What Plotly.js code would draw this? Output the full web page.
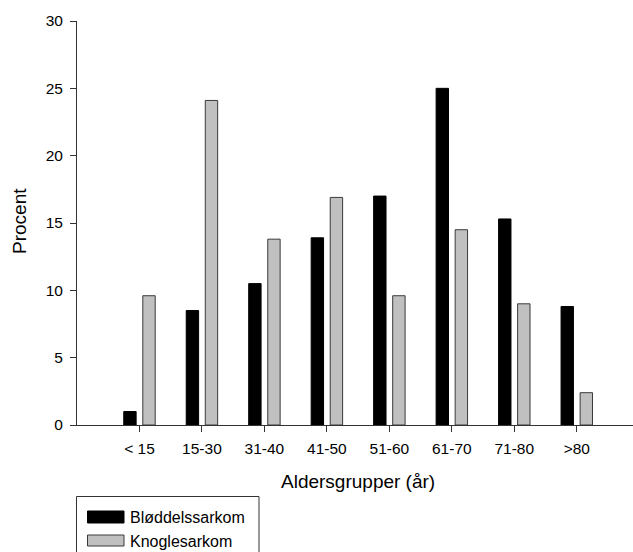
<!DOCTYPE html>
<html>
<head>
<meta charset="utf-8">
<script src="https://cdn.plot.ly/plotly-3.0.1.min.js"></script>
<style>
html,body{margin:0;padding:0;background:#fff;}
#chart{width:633px;height:552px;}
</style>
</head>
<body>
<div id="chart"></div>
<script>
const categories = ["< 15", "15-30", "31-40", "41-50", "51-60", "61-70", "71-80", ">80"];
const bloeddelssarkom = [1.0, 8.5, 10.5, 13.9, 17.0, 25.0, 15.3, 8.8];
const knoglesarkom = [9.6, 24.1, 13.8, 16.9, 9.6, 14.5, 9.0, 2.4];
const seriesNames = ["Bløddelssarkom", "Knoglesarkom"];
const yTicks = [0, 5, 10, 15, 20, 25, 30];
const xTitle = "Aldersgrupper (år)";
const yTitle = "Procent";

const FONT = "Liberation Sans, Arial, sans-serif";
const M = {l: 77, r: 0, t: 21, b: 127};
const W = 633, H = 552;
const PW = W - M.l - M.r, PH = H - M.t - M.b;
const px = x => (x - M.l) / PW;
const py = y => (H - M.b - y) / PH;

const traces = [
  {type: "bar", x: categories, y: bloeddelssarkom, name: seriesNames[0],
   marker: {color: "#000000", line: {color: "#000000", width: 1}}},
  {type: "bar", x: categories, y: knoglesarkom, name: seriesNames[1],
   marker: {color: "#c0c0c0", line: {color: "#3a3a3a", width: 1}}}
];

const layout = {
  width: W, height: H,
  margin: M,
  paper_bgcolor: "#ffffff", plot_bgcolor: "#ffffff",
  showlegend: false,
  barmode: "group", bargap: 0.39, bargroupgap: 0.35,
  font: {family: FONT, size: 15.5, color: "#000"},
  xaxis: {
    type: "category", range: [-1, 7.9], showgrid: false, zeroline: false,
    showline: true, linecolor: "#333", linewidth: 1,
    ticks: "outside", ticklen: 6, tickcolor: "#333", tickwidth: 1,
    tickfont: {family: FONT, size: 15.5, color: "#000"}, ticklabelstandoff: 3
  },
  yaxis: {
    range: [0, 30], tickvals: yTicks, showgrid: false, zeroline: false,
    showline: true, linecolor: "#333", linewidth: 1,
    ticks: "outside", ticklen: 6, tickcolor: "#333", tickwidth: 1,
    tickfont: {family: FONT, size: 15.5, color: "#000"}, ticklabelstandoff: 4
  },
  annotations: [
    {text: xTitle, xref: "paper", yref: "paper", x: px(358), y: py(482),
     xanchor: "center", yanchor: "middle", showarrow: false,
     font: {family: FONT, size: 19, color: "#000"}},
    {text: yTitle, xref: "paper", yref: "paper", x: px(19.5), y: py(221.5),
     xanchor: "center", yanchor: "middle", showarrow: false, textangle: -90,
     font: {family: FONT, size: 19, color: "#000"}},
    {text: seriesNames[0], xref: "paper", yref: "paper", x: px(128), y: py(517.5),
     xanchor: "left", yanchor: "middle", showarrow: false,
     font: {family: FONT, size: 16, color: "#000"}},
    {text: seriesNames[1], xref: "paper", yref: "paper", x: px(128), y: py(541.5),
     xanchor: "left", yanchor: "middle", showarrow: false,
     font: {family: FONT, size: 16, color: "#000"}}
  ],
  shapes: [
    {type: "rect", xref: "paper", yref: "paper", x0: px(76.5), x1: px(259), y0: py(496.5), y1: py(570),
     line: {color: "#333", width: 1}, fillcolor: "rgba(0,0,0,0)"},
    {type: "rect", xref: "paper", yref: "paper", x0: px(87.5), x1: px(124), y0: py(511), y1: py(523),
     line: {color: "#000", width: 1}, fillcolor: "#000"},
    {type: "rect", xref: "paper", yref: "paper", x0: px(87.5), x1: px(124), y0: py(535), y1: py(546),
     line: {color: "#3a3a3a", width: 1}, fillcolor: "#c0c0c0"}
  ]
};

Plotly.newPlot("chart", traces, layout, {staticPlot: true, displayModeBar: false});
</script>
</body>
</html>
